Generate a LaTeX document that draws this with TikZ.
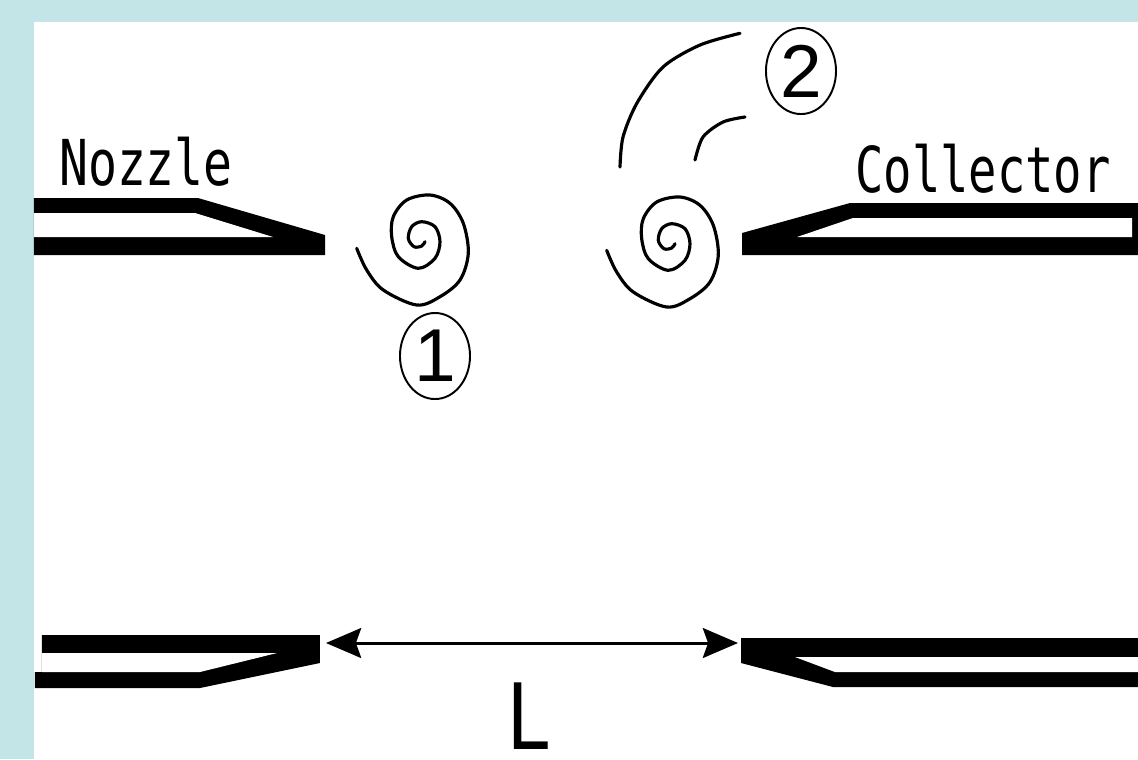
\documentclass[tikz,border=0pt]{standalone}
\usepackage{fontspec}
\usetikzlibrary{arrows.meta,shapes.geometric}
\newfontfamily\monofont{DejaVu Sans Mono}
\newfontfamily\digitfont{Liberation Sans}
\definecolor{bgblue}{RGB}{196,229,231}
\tikzset{
  lbl/.style={inner sep=0pt, font=\monofont\fontsize{18pt}{20pt}\selectfont},
  numell/.style={ellipse, draw, line width=0.55pt, inner sep=0pt,
     minimum width=0.7cm, minimum height=0.86cm,
     font=\digitfont\fontsize{21.3pt}{23pt}\selectfont},
  thinline/.style={line width=0.9pt, line cap=round},
  dimline/.style={line width=0.85pt,
     {Stealth[length=10pt,width=8.5pt,inset=1.5pt]}-{Stealth[length=10pt,width=8.5pt,inset=1.5pt]}},
  vortexpic/.pic={
    \draw[thinline] plot[smooth, tension=0.55] coordinates {
      (356.7,248.3) (366.7,270) (383.3,290) (416.7,305) (440,296.7) (460,280)
      (468.3,253.3) (463.3,223.3) (450,203.3) (430,195) (406.7,200) (393.3,216.7)
      (391.7,236.7) (398.3,256.7) (418.3,268.3) (435,258.3) (440,241.7) (435,226.7)
      (421.7,221.7) (411.7,226.7) (408.3,238.3) (414,246.7) (421.7,246) (425,241.7)};
  }
}
\begin{document}
\begin{tikzpicture}[x=0.01cm, y=-0.01cm]
\useasboundingbox (0,0) rectangle (1138,759);
\fill[bgblue] (0,0) rectangle (1138,759);
\fill[white] (34,22) rectangle (1138,759);

% upper nozzle
\fill[black] (34,198) -- (198,198) -- (325,235) -- (325,255) -- (34,255) -- cycle;
\fill[white] (34,213) -- (195,213) -- (273,237) -- (34,237) -- cycle;
% upper collector
\fill[black] (850,203) -- (1138,203) -- (1138,255) -- (742,255) -- (742,233) -- cycle;
\fill[white] (853,218) -- (1132,218) -- (1132,237) -- (797,237) -- cycle;
% lower nozzle
\fill[black] (42,635) -- (320,635) -- (320,663) -- (200,688) -- (35,688) -- (35,672) -- (42,672) -- cycle;
\fill[white] (42,653) -- (277,653) -- (200,672) -- (42,672) -- cycle;
% lower collector
\fill[black] (741,638) -- (1138,638) -- (1138,687) -- (833,687) -- (741,663) -- cycle;
\fill[white] (795,657) -- (1138,657) -- (1138,672) -- (835,672) -- cycle;

% labels
\node[lbl, anchor=base] (nozzle) at (146,185) {\scalebox{0.76}[1]{Nozzle}};
\node[lbl, anchor=base] (collector) at (983,192) {\scalebox{0.745}[1]{Collector}};

% vortices
\pic (v1) at (0,0) {vortexpic};
\pic (v2) at (250,2) {vortexpic};

% arcs near 2
\draw[thinline] plot[smooth] coordinates {(740,33.3) (700,45) (663,67) (637,103) (623,137) (620,167)};
\draw[thinline] plot[smooth] coordinates {(745,117) (723,122) (703,137) (695,160)};

% numbered ellipses
\node[numell] (n1) at (435,356) {1};
\node[numell] (n2) at (801,71) {2};

% dimension
\coordinate (la) at (326,643);
\coordinate (ra) at (738,643);
\draw[dimline] (la) -- (ra);
\node[inner sep=0pt, anchor=base, font=\monofont\fontsize{26pt}{28pt}\selectfont] (L) at (529,749) {\scalebox{0.82}[1]{L}};
\end{tikzpicture}
\end{document}
